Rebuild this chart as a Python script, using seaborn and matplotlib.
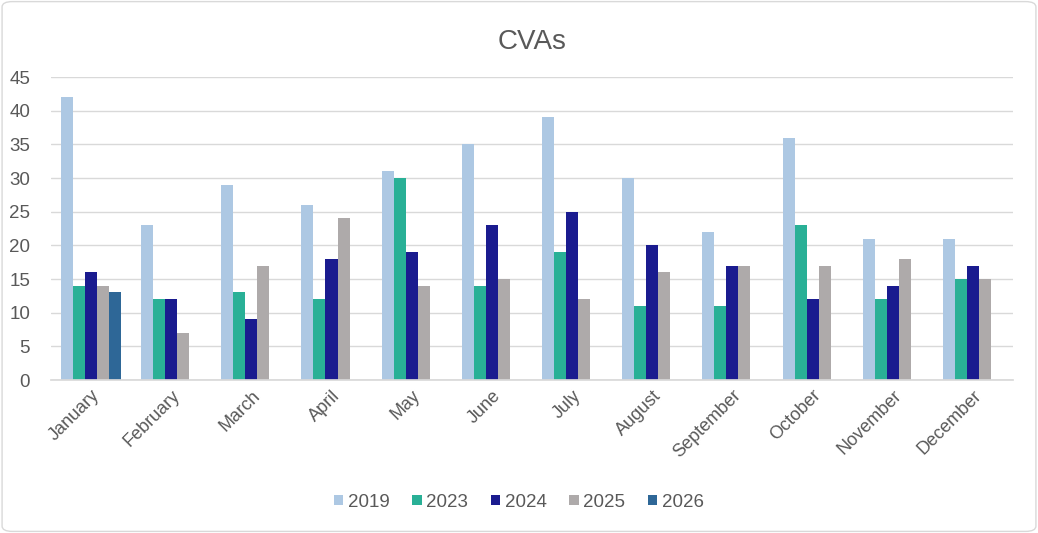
import matplotlib
matplotlib.use("Agg")
import matplotlib.pyplot as plt
import pandas as pd
import seaborn as sns
from matplotlib.patches import FancyBboxPatch

months = ["January", "February", "March", "April", "May", "June",
          "July", "August", "September", "October", "November", "December"]
years = ["2019", "2023", "2024", "2025", "2026"]

cva_2019 = [42, 23, 29, 26, 31, 35, 39, 30, 22, 36, 21, 21]
cva_2023 = [14, 12, 13, 12, 30, 14, 19, 11, 11, 23, 12, 15]
cva_2024 = [16, 12, 9, 18, 19, 23, 25, 20, 17, 12, 14, 17]
cva_2025 = [14, 7, 17, 24, 14, 15, 12, 16, 17, 17, 18, 15]
cva_2026 = [13, None, None, None, None, None, None, None, None, None, None, None]

colors = ["#adc8e3", "#29b096", "#1a1b8f", "#aeaaaa", "#2e6797"]

df = pd.DataFrame({"month": months, "2019": cva_2019, "2023": cva_2023,
                   "2024": cva_2024, "2025": cva_2025, "2026": cva_2026})
df = df.melt(id_vars="month", var_name="year", value_name="count")

sns.set_theme(style="white")
plt.rcParams["font.family"] = ["Liberation Sans", "DejaVu Sans"]

fig = plt.figure(figsize=(10.38, 5.33), dpi=100)
ax = fig.add_axes([0.049, 0.287, 0.927, 0.5685])

sns.barplot(data=df, x="month", y="count", hue="year", hue_order=years,
            order=months, palette=colors, width=0.75, saturation=1,
            dodge=True, ax=ax, legend=True, linewidth=0)

ax.set_ylim(0, 45)
ax.set_yticks(range(0, 46, 5))
ax.grid(axis="y", color="#d9d9d9", linewidth=1)
ax.set_axisbelow(True)
for side in ["top", "right", "left"]:
    ax.spines[side].set_visible(False)
ax.spines["bottom"].set_color("#d9d9d9")
ax.set_xlabel("")
ax.set_ylabel("")
ax.tick_params(axis="y", length=0, pad=15, labelsize=13.5, labelcolor="#595959")
ax.tick_params(axis="x", length=0, pad=5, labelsize=13, labelcolor="#595959")
plt.setp(ax.get_xticklabels(), rotation=45, ha="right", rotation_mode="anchor")
ax.set_xlim(-0.5, len(months) - 0.5)

ax.set_title("CVAs", fontsize=20, color="#595959", pad=20)

handles, labels = ax.get_legend_handles_labels()
ax.get_legend().remove()
fig.legend(handles, labels, loc="center", bbox_to_anchor=(0.5, 0.058), ncol=5,
           frameon=False, fontsize=13.5, labelcolor="#595959",
           handlelength=0.5, handleheight=0.5, handletextpad=0.25,
           columnspacing=1.2)

border = FancyBboxPatch((0.002, 0.003), 0.996, 0.994, transform=fig.transFigure,
                        boxstyle="round,pad=0,rounding_size=0.01",
                        facecolor="none", edgecolor="#d9d9d9", linewidth=1)
fig.patches.append(border)

fig.savefig("out.png", dpi=100)
